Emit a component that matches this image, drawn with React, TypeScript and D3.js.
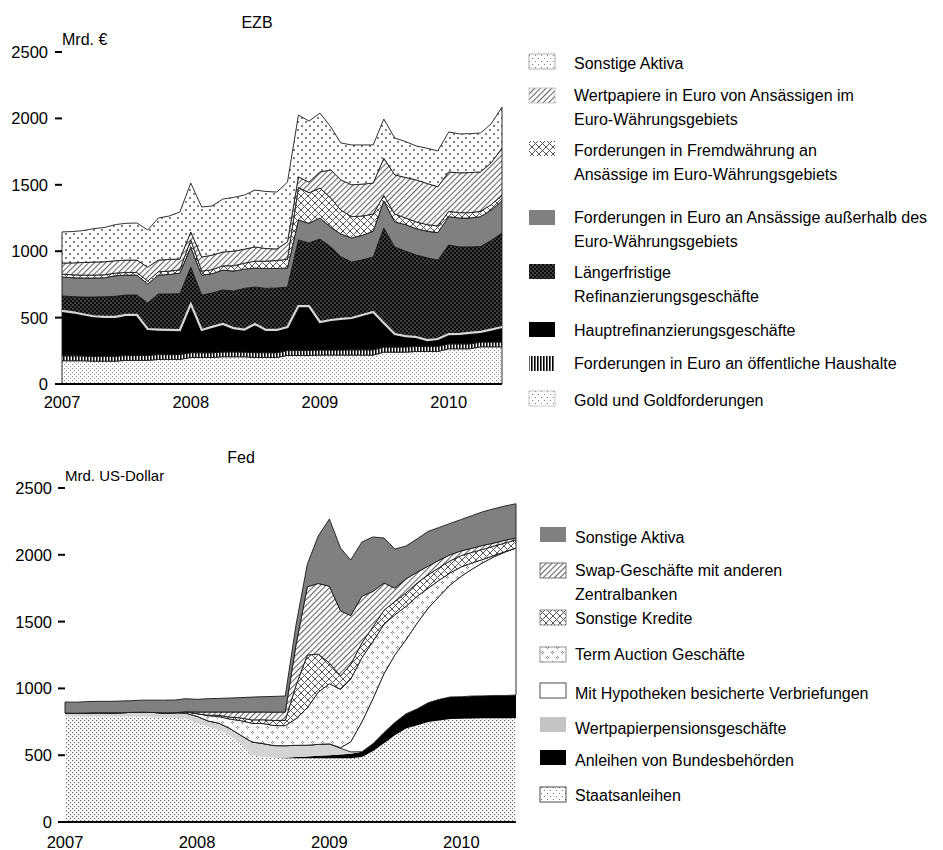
import React from 'react';
import * as d3 from 'd3';

// monthly observations, Jan 2007 .. Jun 2010
const months = d3.timeMonth.range(new Date(2007, 0, 1), new Date(2010, 6, 1));
const yearTicks = [2007, 2008, 2009, 2010];
const valueTicks = [0, 500, 1000, 1500, 2000, 2500];

// ---- EZB (Mrd. €), bottom to top ----
const ezbGold = [175, 175, 175, 172, 172, 172, 178, 178, 178, 185, 185, 185, 200, 200, 200, 205, 205, 205, 200, 200, 200, 215, 215, 215, 218, 218, 218, 218, 218, 218, 240, 240, 240, 245, 245, 245, 265, 265, 265, 280, 280, 280];
const ezbOeff = [37, 37, 36, 36, 37, 37, 36, 36, 37, 37, 36, 37, 36, 35, 35, 36, 36, 35, 36, 36, 35, 37, 38, 38, 38, 38, 38, 39, 39, 39, 38, 38, 39, 38, 38, 38, 37, 37, 37, 36, 36, 36];
const ezbHaupt = [338, 328, 314, 302, 296, 296, 306, 306, 199, 188, 186, 183, 366, 172, 195, 211, 180, 170, 216, 171, 172, 177, 334, 334, 211, 226, 234, 240, 263, 285, 181, 98, 81, 71, 48, 56, 74, 76, 83, 76, 94, 113];
const ezbLaenger = [113, 118, 130, 145, 152, 155, 150, 150, 196, 268, 271, 275, 278, 263, 255, 256, 279, 310, 278, 313, 316, 301, 498, 475, 625, 550, 470, 421, 415, 414, 716, 656, 640, 617, 619, 594, 671, 654, 647, 643, 670, 708];
const ezbAusserhalb = [143, 142, 143, 143, 143, 155, 150, 150, 143, 142, 147, 155, 150, 150, 145, 150, 150, 145, 143, 150, 147, 143, 150, 148, 158, 148, 170, 182, 185, 194, 205, 188, 200, 199, 200, 207, 213, 218, 218, 225, 230, 243];
const ezbFremd = [22, 22, 22, 22, 22, 20, 20, 20, 22, 25, 25, 25, 55, 30, 30, 32, 40, 45, 52, 55, 60, 67, 245, 230, 225, 220, 180, 160, 145, 130, 40, 60, 50, 50, 50, 50, 40, 40, 40, 40, 40, 40];
const ezbWert = [83, 90, 95, 98, 98, 93, 93, 93, 105, 88, 88, 81, 60, 106, 110, 104, 110, 105, 107, 95, 87, 130, 80, 80, 122, 212, 227, 240, 240, 233, 280, 295, 305, 317, 310, 295, 297, 300, 302, 297, 315, 357];
const ezbSonst = [234, 236, 240, 252, 258, 272, 277, 279, 280, 317, 327, 354, 368, 377, 370, 399, 405, 408, 428, 430, 428, 450, 465, 460, 443, 323, 278, 300, 295, 287, 295, 277, 270, 255, 265, 270, 301, 293, 293, 293, 293, 308];

// ---- Fed (Mrd. US-Dollar), bottom to top ----
const fedStaats = [790, 790, 790, 790, 790, 790, 790, 790, 785, 782, 780, 775, 741, 711, 690, 645, 586, 501, 487, 480, 478, 478, 478, 478, 478, 478, 478, 486, 530, 590, 650, 700, 725, 748, 760, 771, 772, 775, 776, 777, 777, 778];
const fedAgency = [0, 0, 0, 0, 0, 0, 0, 0, 0, 0, 0, 0, 0, 0, 0, 0, 0, 0, 0, 0, 3, 8, 12, 18, 22, 28, 32, 40, 55, 80, 95, 110, 122, 145, 158, 165, 166, 168, 168, 170, 170, 172];
const fedRepo = [25, 24, 26, 28, 27, 28, 30, 32, 35, 35, 38, 40, 50, 45, 50, 55, 63, 98, 100, 92, 90, 88, 85, 85, 85, 45, 15, 0, 0, 0, 0, 0, 0, 0, 0, 0, 0, 0, 0, 0, 0, 0];
const fedMbs = [0, 0, 0, 0, 0, 0, 0, 0, 0, 0, 0, 0, 0, 0, 0, 0, 0, 0, 0, 0, 0, 0, 0, 0, 0, 5, 75, 224, 335, 440, 505, 555, 643, 707, 772, 839, 902, 952, 996, 1038, 1073, 1101];
const fedTaf = [0, 0, 0, 0, 0, 0, 0, 0, 0, 0, 0, 10, 20, 40, 50, 70, 110, 140, 150, 150, 150, 200, 280, 390, 450, 437, 470, 480, 430, 370, 300, 250, 200, 150, 120, 90, 70, 45, 25, 10, 3, 0];
const fedKredite = [0, 0, 0, 0, 0, 0, 0, 0, 0, 0, 0, 0, 0, 3, 9, 15, 20, 25, 28, 38, 40, 250, 395, 286, 155, 100, 110, 110, 110, 105, 100, 100, 100, 100, 95, 90, 85, 80, 75, 70, 65, 60];
const fedSwap = [0, 0, 0, 0, 0, 0, 0, 0, 0, 0, 0, 0, 12, 24, 24, 38, 44, 59, 58, 62, 62, 306, 510, 528, 575, 487, 365, 350, 265, 205, 100, 105, 80, 65, 55, 45, 35, 30, 30, 23, 20, 15];
const fedSonst = [83, 83, 85, 85, 86, 87, 88, 90, 92, 95, 95, 98, 95, 100, 102, 105, 108, 112, 115, 118, 120, 150, 170, 355, 503, 470, 416, 406, 408, 336, 293, 246, 250, 260, 245, 235, 235, 245, 252, 257, 257, 256];

const FONT = 'Liberation Sans, Arial, Helvetica, sans-serif';

type Layer = { key: string; values: number[]; fill: string; stroke: boolean };
type LegendItem = { lines: string[]; fill: string; border: string | null };

const ezbLayers: Layer[] = [
  { key: 'gold', values: ezbGold, fill: 'url(#fineDots)', stroke: true },
  { key: 'oeff', values: ezbOeff, fill: 'url(#vLines)', stroke: true },
  { key: 'haupt', values: ezbHaupt, fill: '#000', stroke: true },
  { key: 'laenger', values: ezbLaenger, fill: 'url(#darkDots)', stroke: true },
  { key: 'ausserhalb', values: ezbAusserhalb, fill: '#808080', stroke: true },
  { key: 'fremd', values: ezbFremd, fill: 'url(#crossHatch)', stroke: true },
  { key: 'wert', values: ezbWert, fill: 'url(#diagHatch)', stroke: true },
  { key: 'sonst', values: ezbSonst, fill: 'url(#sparseDots)', stroke: true },
];

const fedLayers: Layer[] = [
  { key: 'staats', values: fedStaats, fill: 'url(#fineDotsDark)', stroke: false },
  { key: 'agency', values: fedAgency, fill: '#000', stroke: false },
  { key: 'repo', values: fedRepo, fill: '#d4d4d4', stroke: false },
  { key: 'mbs', values: fedMbs, fill: '#fff', stroke: true },
  { key: 'taf', values: fedTaf, fill: 'url(#plusDots)', stroke: true },
  { key: 'kredite', values: fedKredite, fill: 'url(#crossHatch)', stroke: true },
  { key: 'swap', values: fedSwap, fill: 'url(#diagHatch)', stroke: true },
  { key: 'sonst', values: fedSonst, fill: '#808080', stroke: true },
];

const ezbLegend: LegendItem[] = [
  { lines: ['Sonstige Aktiva'], fill: 'url(#sparseDotsL)', border: '#999' },
  { lines: ['Wertpapiere in Euro von Ansässigen im', 'Euro-Währungsgebiets'], fill: 'url(#diagHatch)', border: '#bbb' },
  { lines: ['Forderungen in Fremdwährung an', 'Ansässige im Euro-Währungsgebiets'], fill: 'url(#crossHatch)', border: null },
  { lines: ['Forderungen in Euro an Ansässige außerhalb des', 'Euro-Währungsgebiets'], fill: '#808080', border: null },
  { lines: ['Längerfristige', 'Refinanzierungsgeschäfte'], fill: 'url(#darkDots)', border: null },
  { lines: ['Hauptrefinanzierungsgeschäfte'], fill: '#000', border: null },
  { lines: ['Forderungen in Euro an öffentliche Haushalte'], fill: 'url(#vLines)', border: null },
  { lines: ['Gold und Goldforderungen'], fill: 'url(#sparseDotsL)', border: '#bbb' },
];
const ezbLegendTops = [54, 88, 141, 210, 264, 322, 356, 391];
const ezbLegendBase = [69, 101, 156, 223, 278, 336, 369, 406];

const fedLegend: LegendItem[] = [
  { lines: ['Sonstige Aktiva'], fill: '#808080', border: null },
  { lines: ['Swap-Geschäfte mit anderen', 'Zentralbanken'], fill: 'url(#diagHatch)', border: '#555' },
  { lines: ['Sonstige Kredite'], fill: 'url(#crossHatch)', border: '#777' },
  { lines: ['Term Auction Geschäfte'], fill: 'url(#plusDots)', border: '#777' },
  { lines: ['Mit Hypotheken besicherte Verbriefungen'], fill: '#fff', border: '#222' },
  { lines: ['Wertpapierpensionsgeschäfte'], fill: '#c4c4c4', border: null },
  { lines: ['Anleihen von Bundesbehörden'], fill: '#000', border: null },
  { lines: ['Staatsanleihen'], fill: 'url(#sparseDotsL)', border: '#222' },
];
const fedLegendTops = [527, 563, 610, 647, 683, 717, 750, 787];
const fedLegendBase = [543, 576, 624, 660, 699, 734, 766, 801];

type PanelProps = {
  layers: Layer[];
  xRange: [number, number];
  yRange: [number, number];
  tickX: number;
  labelX: number;
  yearY: number;
  title: string;
  titleX: number;
  titleY: number;
  unit: string;
  unitY: number;
  unitSize: number;
  whiteLineKey?: string;
};

function Panel(p: PanelProps) {
  const x = d3.scaleTime().domain([months[0], months[months.length - 1]]).range(p.xRange);
  const y = d3.scaleLinear().domain([0, 2500]).range(p.yRange);
  const rows = months.map((d, i) => {
    const r: any = { date: d };
    p.layers.forEach((l) => (r[l.key] = l.values[i]));
    return r;
  });
  const series = d3.stack<any>().keys(p.layers.map((l) => l.key))(rows);
  const area = d3
    .area<any>()
    .x((d) => x(d.data.date))
    .y0((d) => y(d[0]))
    .y1((d) => y(d[1]));
  const topLine = d3
    .line<any>()
    .x((d) => x(d.data.date))
    .y((d) => y(d[1]));
  const white = p.whiteLineKey ? series.find((s) => s.key === p.whiteLineKey) : null;

  return (
    <g fontFamily={FONT}>
      <text x={p.titleX} y={p.titleY} fontSize={16} textAnchor="middle">{p.title}</text>
      <text x={p.xRange[0]} y={p.unitY} fontSize={p.unitSize}>{p.unit}</text>
      {series.map((s, i) => (
        <path
          key={s.key}
          d={area(s) || ''}
          fill={p.layers[i].fill}
          stroke={p.layers[i].stroke ? '#1a1a1a' : 'none'}
          strokeWidth={0.9}
          strokeLinejoin="round"
        />
      ))}
      {white && <path d={topLine(white) || ''} fill="none" stroke="#d6d6d6" strokeWidth={2.2} />}
      {valueTicks.map((v) => (
        <g key={v}>
          <line x1={p.tickX} x2={p.xRange[0]} y1={y(v)} y2={y(v)} stroke="#000" strokeWidth={2} />
          <text x={p.labelX} y={y(v)} dy="0.36em" fontSize={16.5} textAnchor="end">{v}</text>
        </g>
      ))}
      <line x1={p.tickX} x2={p.xRange[1]} y1={y(0)} y2={y(0)} stroke="#000" strokeWidth={2} />
      {yearTicks.map((yr) => (
        <text key={yr} x={x(new Date(yr, 0, 1))} y={p.yearY} fontSize={16.5} textAnchor="middle">{yr}</text>
      ))}
    </g>
  );
}

function Legend({ items, tops, bases, swatchX, textX }: { items: LegendItem[]; tops: number[]; bases: number[]; swatchX: number; textX: number }) {
  return (
    <g fontFamily={FONT} fontSize={16}>
      {items.map((it, i) => (
        <g key={i}>
          <rect x={swatchX} y={tops[i]} width={26} height={15} fill={it.fill} stroke={it.border || 'none'} strokeWidth={0.8} />
          {it.lines.map((ln, j) => (
            <text key={j} x={textX} y={bases[i] + j * 24}>{ln}</text>
          ))}
        </g>
      ))}
    </g>
  );
}

export default function App() {
  return (
    <div style={{ position: 'absolute', left: 0, top: 0 }}>
      <svg width={943} height={850} style={{ display: 'block', background: '#fff' }}>
        <defs>
          <pattern id="fineDots" patternUnits="userSpaceOnUse" width={4} height={4}>
            <rect width={4} height={4} fill="#fff" />
            <rect x={0} y={0} width={1} height={1} fill="#8a8a8a" />
            <rect x={2} y={2} width={1} height={1} fill="#8a8a8a" />
          </pattern>
          <pattern id="fineDotsDark" patternUnits="userSpaceOnUse" width={4} height={4}>
            <rect width={4} height={4} fill="#fff" />
            <rect x={0} y={0} width={1.2} height={1.2} fill="#6a6a6a" />
            <rect x={2} y={2} width={1.2} height={1.2} fill="#6a6a6a" />
          </pattern>
          <pattern id="vLines" patternUnits="userSpaceOnUse" width={3} height={3}>
            <rect width={3} height={3} fill="#fff" />
            <rect x={0} y={0} width={1.6} height={3} fill="#000" />
          </pattern>
          <pattern id="darkDots" patternUnits="userSpaceOnUse" width={4} height={4}>
            <rect width={4} height={4} fill="#0c0c0c" />
            <circle cx={1} cy={1} r={0.7} fill="#9a9a9a" />
            <circle cx={3} cy={3} r={0.7} fill="#9a9a9a" />
          </pattern>
          <pattern id="crossHatch" patternUnits="userSpaceOnUse" width={7} height={7}>
            <rect width={7} height={7} fill="#fff" />
            <path d="M0,0L7,7M7,0L0,7" stroke="#555" strokeWidth={1} />
          </pattern>
          <pattern id="diagHatch" patternUnits="userSpaceOnUse" width={4} height={4} patternTransform="rotate(45)">
            <rect width={4} height={4} fill="#fff" />
            <rect x={0} y={0} width={1.1} height={4} fill="#666" />
          </pattern>
          <pattern id="sparseDots" patternUnits="userSpaceOnUse" width={8} height={8}>
            <rect width={8} height={8} fill="#fff" />
            <circle cx={2} cy={2} r={0.9} fill="#444" />
            <circle cx={6} cy={6} r={0.9} fill="#444" />
          </pattern>
          <pattern id="sparseDotsL" patternUnits="userSpaceOnUse" width={6} height={6}>
            <rect width={6} height={6} fill="#fff" />
            <circle cx={1.5} cy={1.5} r={0.6} fill="#666" />
            <circle cx={4.5} cy={4.5} r={0.6} fill="#666" />
          </pattern>
          <pattern id="plusDots" patternUnits="userSpaceOnUse" width={10} height={10}>
            <rect width={10} height={10} fill="#fff" />
            <circle cx={2.5} cy={1.3} r={0.55} fill="#555" />
            <circle cx={1.3} cy={2.5} r={0.55} fill="#555" />
            <circle cx={3.7} cy={2.5} r={0.55} fill="#555" />
            <circle cx={2.5} cy={3.7} r={0.55} fill="#555" />
            <circle cx={7.5} cy={6.3} r={0.55} fill="#555" />
            <circle cx={6.3} cy={7.5} r={0.55} fill="#555" />
            <circle cx={8.7} cy={7.5} r={0.55} fill="#555" />
            <circle cx={7.5} cy={8.7} r={0.55} fill="#555" />
          </pattern>
        </defs>

        <Panel
          layers={ezbLayers}
          xRange={[62, 502]}
          yRange={[384, 52]}
          tickX={55}
          labelX={48}
          yearY={408}
          title="EZB"
          titleX={257}
          titleY={28}
          unit="Mrd. €"
          unitY={45}
          unitSize={16}
          whiteLineKey="haupt"
        />
        <Legend items={ezbLegend} tops={ezbLegendTops} bases={ezbLegendBase} swatchX={529} textX={574} />

        <Panel
          layers={fedLayers}
          xRange={[65, 516]}
          yRange={[822, 488]}
          tickX={58}
          labelX={52}
          yearY={848}
          title="Fed"
          titleX={241}
          titleY={463}
          unit="Mrd. US-Dollar"
          unitY={481}
          unitSize={15}
        />
        <Legend items={fedLegend} tops={fedLegendTops} bases={fedLegendBase} swatchX={540} textX={575} />
      </svg>
    </div>
  );
}
